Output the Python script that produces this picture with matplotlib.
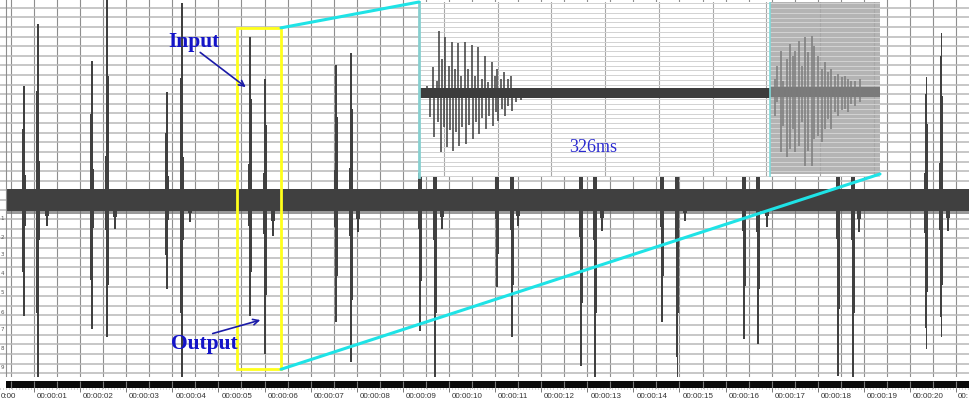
import numpy as np
import matplotlib
matplotlib.use("Agg")
import matplotlib.pyplot as plt
from matplotlib.patches import Rectangle, ConnectionPatch

# ---- data ----
# main view: time in seconds, amplitude in grid units (centre of waveform = 0)
in_t = [0.783, 2.258, 3.885, 5.686, 7.551, 9.373, 11.043, 12.866, 14.623, 16.401, 18.44, 20.35]
out_t = [1.087, 2.584, 4.21, 6.011, 7.877, 9.699, 11.369, 13.17, 14.95, 16.705, 18.766, 20.675]
in_up = [11.9, 14.5, 11.25, 17.0, 14.0, 13.0, 12.5, 14.0, 13.0, 12.0, 14.0, 12.8]
out_up = [18.3, 20.8, 20.5, 12.6, 15.3, 16.0, 15.0, 17.0, 16.0, 15.0, 16.0, 17.4]
in_down = [-12.1, -13.4, -9.3, -12.1, -12.7, -13.6, -9.0, -17.3, -12.7, -14.5, -18.3, -15.5]
out_down = [-19, -14.2, -19, -16, -16.8, -19, -14.2, -19, -19, -15, -19, -14.2]
side_t = [1.282, 2.757, 4.384, 6.184, 8.028, 9.85, 11.5, 13.32, 15.12, 16.9, 18.9, 20.83]
side_down = [-2.7, -3.0, -2.3, -3.7, -3.3, -3.0, -2.7, -3.2, -2.2, -2.8, -3.3, -3.2]
noise_top, noise_bot, noise_fringe = 1.15, -1.1, -1.45

zoom_box_t = (5.403, 6.358)
zoom_box_g = (-17.6, 17.9)

ruler_secs = list(range(1, 21))
ruler_first_label = "0:00"   # label cut by the left edge in the screenshot
ruler_last_label = "00:"     # label cut by the right edge

# zoomed inset: time in ms, amplitude in inset pixels
in_ms = [7.6, 10.4, 13.2, 14.2, 17, 17.5, 19, 21, 22, 24, 25, 26.5, 28, 29, 31, 32, 34, 35,
         37, 38, 40, 41, 43.5, 44.4, 46, 47, 50, 51, 53, 54, 56, 57, 59.5, 60, 62, 63, 65, 66,
         69, 70, 72, 72.5, 74, 75, 78, 78.5, 80, 81, 84, 84.5, 87, 88, 92, 96]
in_amp = [6, -25, 25, -45, 11, -30, 61, -60, 33, -35, 55, -55, 26, -38, 50, -59, 23, -40,
          49, -54, 16, -35, 50, -52, 23, -33, 47, -47, 16, -30, 45, -42, 13, -26, 36, -37, 10, -24,
          30, -34, 16, -20, 23, -29, 13, -17, 20, -24, 13, -14, 16, -19, -10, -8]
out_ms = [336.5, 339, 342, 344, 348, 351, 353.5, 356, 359, 362, 365, 368, 371.5, 374, 377,
          381, 384, 386.6, 390, 393, 396, 400, 402.6, 405.5, 409, 412, 417]
out_top = [13, 26, 41, 11, 33, 48, 36, 41, 51, 26, 55, 40, 56, 46, 36,
           23, 30, 20, 23, 16, 18, 15, 16, 13, 11, 11, 13]
out_bot = [-24, -10, -60, -34, -65, -57, -37, -60, -54, -30, -74, -59, -74, -47, -44,
           -50, -37, -27, -37, -20, -24, -18, -17, -20, -12, -14, -10]
sel_start_ms = 331.8
inset_len_ms = 436

W, H = 969, 406
PX = 1 / 46.1  # seconds per pixel on the main ruler

fig = plt.figure(figsize=(W / 100, H / 100), dpi=100)
fig.patch.set_facecolor("white")


def fax(x0, y0, x1, y1):
    return fig.add_axes([x0 / W, 1 - y1 / H, (x1 - x0) / W, (y1 - y0) / H])


# ---- main waveform view ----
ax = fax(6, 0, 969, 378)
ax.set_xlim(0.393, 21.28)
ax.set_ylim(-18.4, 20.9)
ax.set_xticks([])
ax.set_yticks([])
for s in ax.spines.values():
    s.set_visible(False)
for t in np.arange(0.5, 21.5, 0.5):
    ax.axvline(t, color="#8e8e8e", lw=0.8, zorder=0)
for g in np.arange(-18, 21):
    ax.axhline(g, color="#b8b8b8", lw=1.1, zorder=0)

wave = "#404040"
ax.axhspan(noise_bot, noise_top, color=wave, lw=0, zorder=2)
ax.axhspan(noise_fringe, noise_bot, color="#707070", lw=0, alpha=0.7, zorder=2)

# each spike: thin needle on top of a stepped, wider base
for w, f in [(4.6, 0.22), (3.0, 0.62), (2.0, 0.86), (1.2, 1.0)]:
    for tt, aa in [(in_t, in_up), (out_t, out_up), (in_t, in_down), (out_t, out_down)]:
        ax.bar(tt, np.array(aa) * f, width=w * PX, bottom=0, color=wave, lw=0, zorder=2)
ax.bar(side_t, np.array(side_down), width=2 * PX, bottom=0, color=wave, lw=0, zorder=2)
ax.bar(side_t, np.array(side_down) * 0.6, width=4 * PX, bottom=0, color=wave, lw=0, zorder=2)

ax.add_patch(Rectangle((zoom_box_t[0], zoom_box_g[0]), zoom_box_t[1] - zoom_box_t[0],
                       zoom_box_g[1] - zoom_box_g[0], fill=False, ec="#ffff1a", lw=2, zorder=4))

blue = "#1414c8"
ax.text(4.47, 16.04, "Input", family="Liberation Serif", weight="bold", fontsize=15.5,
        color=blue, ha="center", va="baseline", zorder=5)
ax.annotate("", xy=(5.642, 11.56), xytext=(4.557, 15.52),
            arrowprops=dict(arrowstyle="->", color="#1a1aa8", lw=1.2, mutation_scale=10), zorder=5)
ax.text(4.688, -15.42, "Output", family="Liberation Serif", weight="bold", fontsize=15.5,
        color=blue, ha="center", va="baseline", zorder=5)
ax.annotate("", xy=(5.967, -12.4), xytext=(4.818, -13.96),
            arrowprops=dict(arrowstyle="->", color="#1a1aa8", lw=1.2, mutation_scale=10), zorder=5)

# ---- left amplitude strip ----
lax = fax(0, 0, 6, 378)
lax.set_xlim(0, 1)
lax.set_ylim(-18.4, 20.9)
lax.set_xticks([])
lax.set_yticks([])
for s in lax.spines.values():
    s.set_visible(False)
lax.spines["right"].set_visible(True)
lax.spines["right"].set_color("#8e8e8e")
for g in np.arange(-18, 21):
    lax.axhline(g, color="#b8b8b8", lw=1.1, zorder=0)
for i, g in enumerate([-1.77, -3.75, -5.6, -7.5, -9.5, -11.6, -13.4, -15.3, -17.3]):
    lax.text(0.05, g, str(i + 1), fontsize=4, color="#555555", ha="left", va="center")

# ---- time ruler ----
rax = fax(0, 378, 969, 406)
t_left = 1 - 34 * PX
rax.set_xlim(t_left, 21.28)
rax.set_ylim(0, 28)
rax.set_xticks([])
rax.set_yticks([])
for s in rax.spines.values():
    s.set_visible(False)
rax.axhspan(17, 24, xmin=6 / W, color="#0a0a0a", lw=0)
rax.vlines(np.arange(0.5, 21.5, 0.5), 17, 24, color="#7a7a7a", lw=0.8)
rax.vlines(np.arange(0, 21.3, 1 / 15), 15.8, 17, color="#9a9a9a", lw=0.6)
rax.vlines(np.arange(0, 22, 1.0), 13.5, 17, color="#777777", lw=0.7)
lab = dict(family="Liberation Sans", fontsize=5.8, color="#333333", va="center")
for sec in ruler_secs:
    rax.text(sec + 3 * PX, 9.5, "00:00:%02d" % sec, ha="left", **lab)
rax.text(t_left + 0.5 * PX, 9.5, ruler_first_label, ha="left", **lab)
rax.text(21.28 - 0.5 * PX, 9.5, ruler_last_label, ha="right", **lab)

# ---- zoomed inset ----
iax = fax(419, 3, 880, 178)
iax.set_xlim(0, inset_len_ms)
iax.set_ylim(-85, 90)
iax.set_xticks([])
iax.set_yticks([])
iax.set_facecolor("white")
for s in iax.spines.values():
    s.set_visible(False)
iax.spines["left"].set_visible(True)
iax.spines["left"].set_color("#86cfcf")
iax.spines["left"].set_linewidth(2)
iax.axvspan(sel_start_ms, inset_len_ms, ymin=3 / 175, color="#b4b4b4", lw=0, zorder=0.5)
for t in np.arange(23.6, inset_len_ms, 50.8):
    iax.axvline(t, color="#a8a8a8", lw=0.8, zorder=1)
for a in np.arange(-84, 90, 4.8):
    iax.axhline(a, color="#d2d2d2", lw=0.7, zorder=1)
iax.axvline(sel_start_ms, color="#7fdada", lw=1.2, zorder=3)
iax.fill_between([0, sel_start_ms], -6, 4, color="#3c3c3c", lw=0, zorder=2)
iax.fill_between([sel_start_ms, inset_len_ms], -5, 5, color="#7a7a7a", lw=0, zorder=2)
iax.vlines(in_ms, 0, in_amp, color="#3c3c3c", lw=1.1, zorder=2)
iax.vlines(out_ms, out_bot, out_top, color="#7c7c7c", lw=1.1, zorder=2)
iax.text(164.5, -54, "326ms", family="Liberation Serif", fontsize=13, color="#2a2ad0",
         ha="center", va="center", zorder=4)

# ---- connector lines from the yellow box to the inset ----
cyan = "#1ee3e6"
for xyA, xyB in [((zoom_box_t[1], zoom_box_g[1]), (0, 1)),
                 ((zoom_box_t[1], zoom_box_g[0]), (1, 3 / 175))]:
    cp = ConnectionPatch(xyA=xyA, coordsA="data", axesA=ax, xyB=xyB, coordsB="axes fraction",
                         axesB=iax, color=cyan, lw=2.2, zorder=6)
    fig.add_artist(cp)

fig.savefig("out.png", dpi=100)
